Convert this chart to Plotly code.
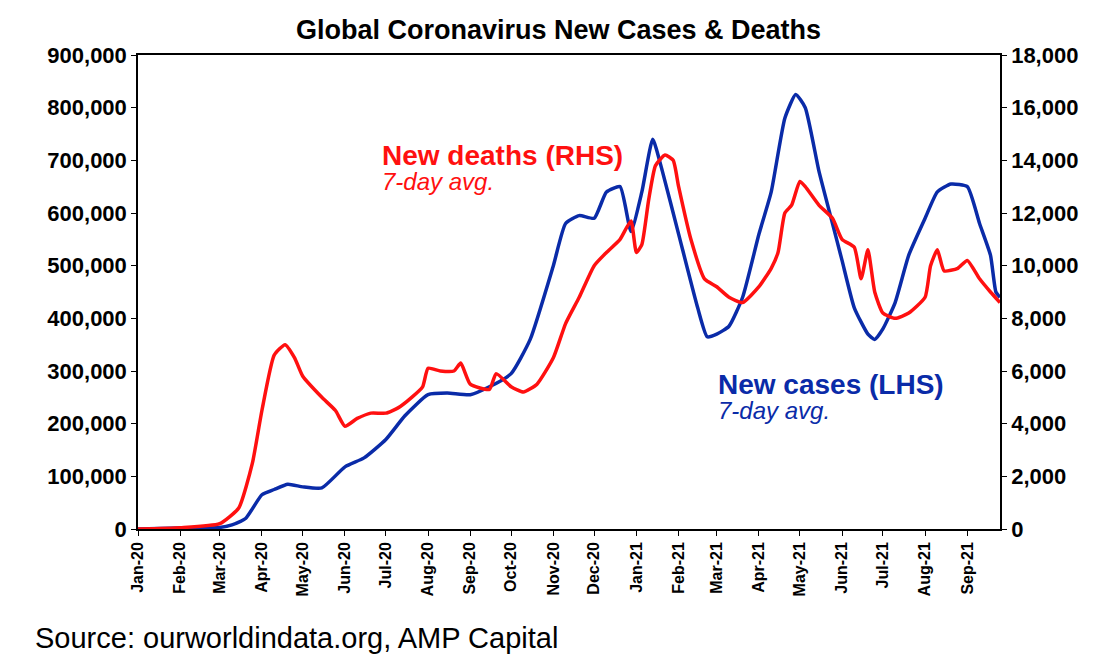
import plotly.graph_objects as go

# New cases, 7-day avg (LHS)
case_dates = ["2020-01-01", "2020-02-01", "2020-03-01", "2020-03-10", "2020-03-20", "2020-04-01",
              "2020-04-10", "2020-04-20", "2020-05-01", "2020-05-15", "2020-06-01", "2020-06-15",
              "2020-07-01", "2020-07-15", "2020-08-01", "2020-08-15", "2020-09-01", "2020-09-15",
              "2020-10-01", "2020-10-15", "2020-11-01", "2020-11-10", "2020-11-20", "2020-12-01",
              "2020-12-10", "2020-12-20", "2020-12-28", "2021-01-05", "2021-01-13", "2021-01-20",
              "2021-02-01", "2021-02-15", "2021-02-22", "2021-03-01", "2021-03-10", "2021-03-20",
              "2021-04-01", "2021-04-10", "2021-04-20", "2021-04-28", "2021-05-05", "2021-05-15",
              "2021-05-25", "2021-06-01", "2021-06-10", "2021-06-20", "2021-06-25", "2021-07-01",
              "2021-07-10", "2021-07-20", "2021-08-01", "2021-08-10", "2021-08-20", "2021-09-01",
              "2021-09-10", "2021-09-18", "2021-09-22", "2021-09-25"]
cases = [0, 2000, 3000, 8000, 20000, 65000,
         75000, 85000, 80000, 78000, 118000, 135000,
         170000, 215000, 255000, 258000, 255000, 270000,
         295000, 360000, 500000, 580000, 595000, 590000,
         640000, 650000, 565000, 640000, 740000, 680000,
         560000, 420000, 365000, 370000, 385000, 440000,
         560000, 640000, 780000, 825000, 800000, 680000,
         580000, 510000, 420000, 370000, 360000, 380000,
         430000, 520000, 590000, 640000, 655000, 650000,
         580000, 520000, 450000, 440000]

# New deaths, 7-day avg (RHS)
death_dates = ["2020-01-01", "2020-02-01", "2020-03-01", "2020-03-15", "2020-03-25", "2020-04-01",
               "2020-04-10", "2020-04-18", "2020-04-25", "2020-05-01", "2020-05-15", "2020-05-25",
               "2020-06-01", "2020-06-10", "2020-06-20", "2020-07-01", "2020-07-10", "2020-07-20",
               "2020-07-28", "2020-08-01", "2020-08-10", "2020-08-20", "2020-08-25", "2020-09-01",
               "2020-09-15", "2020-09-20", "2020-10-01", "2020-10-10", "2020-10-20", "2020-11-01",
               "2020-11-10", "2020-11-20", "2020-12-01", "2020-12-10", "2020-12-20", "2020-12-28",
               "2021-01-01", "2021-01-05", "2021-01-10", "2021-01-15", "2021-01-22", "2021-01-28",
               "2021-02-01", "2021-02-10", "2021-02-20", "2021-03-01", "2021-03-10", "2021-03-20",
               "2021-04-01", "2021-04-10", "2021-04-15", "2021-04-20", "2021-04-25", "2021-05-01",
               "2021-05-05", "2021-05-15", "2021-05-25", "2021-06-01", "2021-06-10", "2021-06-15",
               "2021-06-20", "2021-06-25", "2021-07-01", "2021-07-10", "2021-07-20", "2021-08-01",
               "2021-08-05", "2021-08-10", "2021-08-15", "2021-08-25", "2021-09-01", "2021-09-10",
               "2021-09-18", "2021-09-25"]
deaths = [0, 50, 200, 800, 2500, 4500,
          6600, 7000, 6500, 5800, 5000, 4500,
          3900, 4200, 4400, 4400, 4600, 5000,
          5400, 6100, 6000, 6000, 6300, 5500,
          5300, 5900, 5400, 5200, 5500, 6500,
          7800, 8800, 10000, 10500, 11000, 11700,
          10500, 10800, 12500, 13800, 14200, 14000,
          13000, 11000, 9500, 9200, 8800, 8600,
          9200, 9900, 10500, 12000, 12300, 13200,
          13000, 12300, 11800, 11000, 10700, 9500,
          10600, 9000, 8200, 8000, 8200, 8800,
          10000, 10600, 9800, 9900, 10200, 9500,
          9000, 8600]

font = "Liberation Sans, Arial, sans-serif"
blue = "#0A2BA8"
red = "#FF1010"

fig = go.Figure()
fig.add_trace(go.Scatter(x=case_dates, y=cases, mode="lines",
                         line=dict(color=blue, width=3.5, shape="spline", smoothing=0.5)))
fig.add_trace(go.Scatter(x=death_dates, y=deaths, mode="lines", yaxis="y2",
                         line=dict(color=red, width=3.5, shape="spline", smoothing=0.5)))

fig.update_layout(
    width=1101, height=654, showlegend=False,
    plot_bgcolor="white", paper_bgcolor="white",
    margin=dict(l=130, r=109, t=47, b=133),
    font=dict(family=font, color="black"),
    title=dict(text="<b>Global Coronavirus New Cases & Deaths</b>", x=0.5, xanchor="center",
               y=0.967, yanchor="middle", font=dict(size=27)),
    xaxis=dict(range=["2020-01-01", "2021-09-25"], tickformat="%b-%y", dtick="M1", tick0="2020-01-01",
               tickangle=-90, showgrid=False, showline=True, linecolor="black", linewidth=1.5,
               ticks="outside", tickcolor="black", automargin=False,
               tickfont=dict(size=16, family=font, weight="bold"), mirror=True),
    yaxis=dict(range=[0, 900000], dtick=100000, tickformat=",", showgrid=False, showline=True,
               linecolor="black", linewidth=1.5, ticks="outside", tickcolor="black", automargin=False,
               tickfont=dict(size=22, family=font, weight="bold")),
    yaxis2=dict(range=[0, 18000], dtick=2000, tickformat=",", overlaying="y", side="right",
                showgrid=False, showline=True, linecolor="black", linewidth=1.5, ticks="outside",
                tickcolor="black", automargin=False, tickfont=dict(size=22, family=font, weight="bold")),
)

annots = [
    (372, 148, "<b>New deaths (RHS)</b>", red, 28),
    (372, 174, "<i>7-day avg.</i>", red, 24),
    (708, 376, "<b>New cases (LHS)</b>", blue, 28),
    (708, 402, "<i>7-day avg.</i>", blue, 24),
    (25, 630, "Source: ourworldindata.org, AMP Capital", "black", 29),
]
for px_, py_, txt, col, sz in annots:
    fig.add_annotation(x=(px_ - 130) / 862, y=(521 - py_) / 474, xref="paper", yref="paper",
                       text=txt, showarrow=False, xanchor="left", yanchor="middle",
                       font=dict(color=col, size=sz, family=font))

fig.write_html("out.html")
